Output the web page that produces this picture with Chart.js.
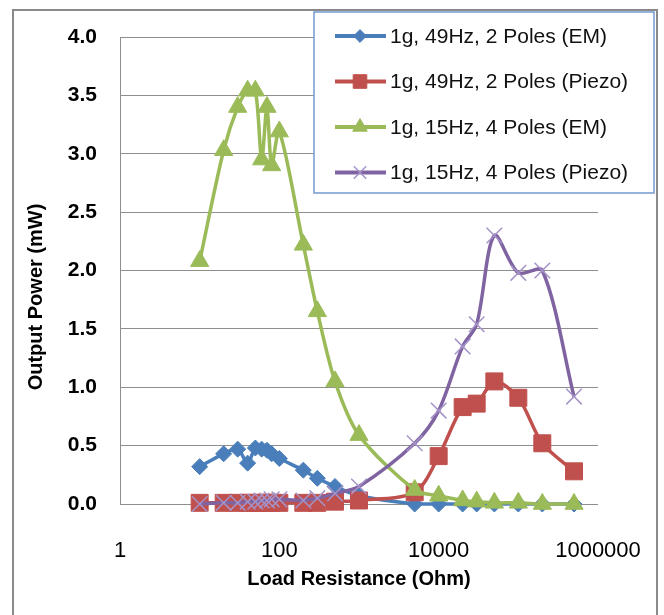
<!DOCTYPE html>
<html lang="en">
<head>
  <meta charset="UTF-8" />
  <title>Output Power vs Load Resistance</title>
  <script src="https://cdn.jsdelivr.net/npm/chart.js"></script>
  <style>
    html, body { margin: 0; padding: 0; background: #fff; }
  </style>
</head>
<body>
  <canvas id="powerChart" width="664" height="615"></canvas>

  <script>
    // load resistance in Ohm (x values, same for every series)
    const resistance = [10, 20, 30, 40, 50, 60, 70, 80, 100, 200, 300, 500, 1000,
                        5000, 10000, 20000, 30000, 50000, 100000, 200000, 500000];

    // output power in mW
    const em49Hz    = [0.32, 0.43, 0.47, 0.35, 0.48, 0.47, 0.46, 0.43, 0.39, 0.29, 0.22, 0.15, 0.07,
                       0.00, 0.00, 0.00, 0.00, 0.00, 0.00, 0.00, 0.00];
    const piezo49Hz = [0.01, 0.01, 0.01, 0.01, 0.01, 0.01, 0.01, 0.01, 0.01, 0.01, 0.01, 0.02, 0.03,
                       0.10, 0.41, 0.83, 0.86, 1.05, 0.91, 0.52, 0.28];
    const em15Hz    = [2.08, 3.03, 3.40, 3.54, 3.54, 2.95, 3.40, 2.90, 3.19, 2.22, 1.65, 1.05, 0.59,
                       0.12, 0.07, 0.03, 0.02, 0.01, 0.01, 0.00, 0.00];
    const piezo15Hz = [0.00, 0.01, 0.01, 0.02, 0.02, 0.03, 0.03, 0.04, 0.04, 0.03, 0.05, 0.09, 0.15,
                       0.52, 0.80, 1.35, 1.54, 2.30, 1.98, 2.00, 0.92];

    const seriesLabels = ['1g, 49Hz, 2 Poles (EM)', '1g, 49Hz, 2 Poles (Piezo)',
                          '1g, 15Hz, 4 Poles (EM)', '1g, 15Hz, 4 Poles (Piezo)'];
    const xTicks = [1, 100, 10000, 1000000];

    const toPoints = values => values.map((v, i) => ({ x: resistance[i], y: v }));

    // box legend drawn inside the plot, top right
    const boxLegend = {
      id: 'boxLegend',
      afterDraw(chart) {
        const ctx = chart.ctx;
        ctx.save();
        ctx.fillStyle = '#fff';
        ctx.fillRect(314, 12, 340, 181);
        ctx.strokeStyle = '#7399cf';
        ctx.lineWidth = 1.5;
        ctx.strokeRect(314, 12, 340, 181);

        chart.data.datasets.forEach((ds, i) => {
          const y = 36 + i * 45.5;
          ctx.strokeStyle = ds.borderColor;
          ctx.lineWidth = 4;
          ctx.beginPath();
          ctx.moveTo(335, y);
          ctx.lineTo(386, y);
          ctx.stroke();

          ctx.fillStyle = ds.pointBackgroundColor;
          ctx.strokeStyle = ds.pointBorderColor;
          ctx.lineWidth = ds.pointBorderWidth;
          Chart.helpers.drawPoint(ctx, {
            pointStyle: ds.pointStyle,
            radius: ds.pointRadius * 0.8,
            borderWidth: ds.pointBorderWidth
          }, 360, y);

          ctx.fillStyle = '#111';
          ctx.font = '21px "Liberation Sans", Arial, sans-serif';
          ctx.textAlign = 'left';
          ctx.textBaseline = 'middle';
          ctx.fillText(ds.label, 390, y + 1);
        });
        ctx.restore();
      }
    };

    // y axis title, Excel puts it a bit below the plot centre
    const yTitle = {
      id: 'yTitle',
      afterDraw(chart) {
        const ctx = chart.ctx;
        ctx.save();
        ctx.translate(36, 297);
        ctx.rotate(-Math.PI / 2);
        ctx.fillStyle = '#000';
        ctx.font = 'bold 20px "Liberation Sans", Arial, sans-serif';
        ctx.textAlign = 'center';
        ctx.textBaseline = 'middle';
        ctx.fillText('Output Power (mW)', 0, 0);
        ctx.restore();
      }
    };

    // outer chart frame
    const frame = {
      id: 'frame',
      beforeDraw(chart) {
        const ctx = chart.ctx;
        ctx.save();
        ctx.fillStyle = '#fff';
        ctx.fillRect(0, 0, chart.width, chart.height);
        ctx.strokeStyle = '#8a8a8a';
        ctx.lineWidth = 2;
        ctx.strokeRect(13, 10, 644, 620);
        ctx.restore();
      }
    };

    const lineDataset = (label, values, color, style, radius, pointColor, pointBorderWidth, order) => ({
      label,
      data: toPoints(values),
      borderColor: color,
      backgroundColor: color,
      borderWidth: 3.5,
      tension: 0.3,
      pointStyle: style,
      pointRadius: radius,
      pointHoverRadius: radius,
      pointBackgroundColor: pointColor,
      pointBorderColor: pointColor,
      pointBorderWidth,
      order,
      clip: false
    });

    const ctx = document.getElementById('powerChart').getContext('2d');
    const powerChart = new Chart(ctx, {
      type: 'line',
      data: {
        datasets: [
          lineDataset(seriesLabels[0], em49Hz,    '#4a7ebb', 'rectRot',  8,    '#4a7ebb', 1,   4),
          lineDataset(seriesLabels[1], piezo49Hz, '#c0504d', 'rect',     12,   '#c0504d', 1,   3),
          lineDataset(seriesLabels[2], em15Hz,    '#9bbb59', 'triangle', 10.5, '#9bbb59', 1,   2),
          lineDataset(seriesLabels[3], piezo15Hz, '#8064a2', 'crossRot', 11,   '#a593c8', 1.5, 1)
        ]
      },
      options: {
        responsive: false,
        animation: false,
        devicePixelRatio: 1,
        layout: { padding: { top: 37, right: 66, bottom: 0, left: 0 } },
        plugins: {
          legend: { display: false },
          tooltip: { enabled: false }
        },
        scales: {
          x: {
            type: 'logarithmic',
            min: 1,
            max: 1000000,
            afterBuildTicks: axis => { axis.ticks = xTicks.map(v => ({ value: v })); },
            afterFit: axis => {
              axis.height = 111;
              // labels may spill into the layout padding
              axis.paddingLeft = 0;
              axis.paddingRight = 0;
            },
            grid: { display: false },
            border: { display: false },
            ticks: {
              color: '#000',
              padding: 26,
              maxRotation: 0,
              autoSkip: false,
              font: { family: '"Liberation Sans", Arial, sans-serif', size: 22 },
              callback: v => String(v)
            },
            title: {
              display: true,
              text: 'Load Resistance (Ohm)',
              color: '#000',
              padding: { top: 0, bottom: 24 },
              font: { family: '"Liberation Sans", Arial, sans-serif', size: 20, weight: 'bold' }
            }
          },
          y: {
            min: 0,
            max: 4,
            afterFit: axis => { axis.width = 120; },
            grid: { color: '#8e8e8e', lineWidth: 1, drawTicks: false },
            border: { display: true, color: '#8e8e8e', width: 1 },
            ticks: {
              stepSize: 0.5,
              color: '#000',
              padding: 23,
              font: { family: '"Liberation Sans", Arial, sans-serif', size: 21, weight: 'bold' },
              callback: v => v.toFixed(1)
            }
          }
        }
      },
      plugins: [frame, boxLegend, yTitle]
    });
  </script>
</body>
</html>
